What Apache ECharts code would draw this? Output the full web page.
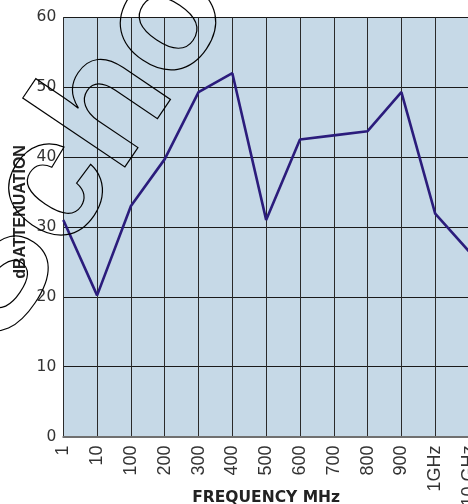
<!DOCTYPE html>
<html>
<head>
<meta charset="utf-8">
<script src="https://cdn.jsdelivr.net/npm/echarts@6/dist/echarts.min.js"></script>
<style>
html,body{margin:0;padding:0;background:#fff;}
#c{width:468px;height:504px;}
</style>
</head>
<body>
<div id="c"></div>
<script>
// ---- data ----
const categories = ['1', '10', '100', '200', '300', '400', '500', '600', '700', '800', '900', '1GHz', '10 GHz'];
const attenuation = [31, 20.2, 33, 39.7, 49.3, 52, 31, 42.5, 43.1, 43.7, 49.3, 31.9, 26.5];
const yMin = 0, yMax = 60, yStep = 10;
const xTitle = 'FREQUENCY MHz';
const yTitle = 'dBATTENUATION';
const watermarkText = 'Scho';

const chart = echarts.init(document.getElementById('c'), null, {renderer: 'canvas'});
chart.setOption({
  animation: false,
  backgroundColor: '#ffffff',
  grid: {left: 63.3, top: 17.3, right: -1, bottom: 67.5, show: true, backgroundColor: '#c6d9e7', borderWidth: 0,
         containLabel: false, outerBoundsMode: 'none'},
  xAxis: {
    type: 'category',
    data: categories,
    boundaryGap: false,
    axisLine: {show: true, lineStyle: {color: '#707070', width: 2}},
    axisTick: {show: false},
    axisLabel: {rotate: 90, margin: 9, color: '#333', fontSize: 18, fontFamily: '"Liberation Sans Narrow", "Arial Narrow", "Liberation Sans", Arial'},
    splitLine: {show: true, lineStyle: {color: '#2a2a2a', width: 1}},
    name: xTitle,
    nameLocation: 'middle',
    nameGap: 53.5,
    nameMoveOverlap: false,
    nameTextStyle: {color: '#222', fontWeight: 'bold', fontSize: 15.5, fontFamily: '"DejaVu Sans", sans-serif'}
  },
  yAxis: {
    type: 'value',
    min: yMin, max: yMax, interval: yStep,
    axisLine: {show: false},
    axisTick: {show: false},
    axisLabel: {margin: 7, color: '#333', fontSize: 15.5, fontFamily: '"DejaVu Sans", sans-serif'},
    splitLine: {show: true, lineStyle: {color: '#1a1a1a', width: 1}},
    name: yTitle,
    nameLocation: 'middle',
    nameGap: 35,
    nameMoveOverlap: false,
    nameTextStyle: {color: '#222', fontWeight: 'bold', fontSize: 16, fontFamily: '"Liberation Sans", Arial, sans-serif', padding: [0, 0, 0, 30]}
  },
  series: [{
    type: 'line',
    data: attenuation,
    symbol: 'none',
    clip: false,
    lineStyle: {color: '#2b1c7c', width: 2.6},
    z: 3
  }],
  graphic: [{
    type: 'text',
    x: -37, y: 323,
    rotation: 56 * Math.PI / 180,
    z: 100,
    silent: true,
    style: {
      text: watermarkText,
      font: 'bold 170px "Liberation Sans", Arial, sans-serif',
      fill: 'rgba(0,0,0,0)',
      stroke: '#000',
      lineWidth: 1.2,
      textAlign: 'left',
      textVerticalAlign: 'middle',
      align: 'left',
      verticalAlign: 'middle'
    }
  }]
});
</script>
</body>
</html>
